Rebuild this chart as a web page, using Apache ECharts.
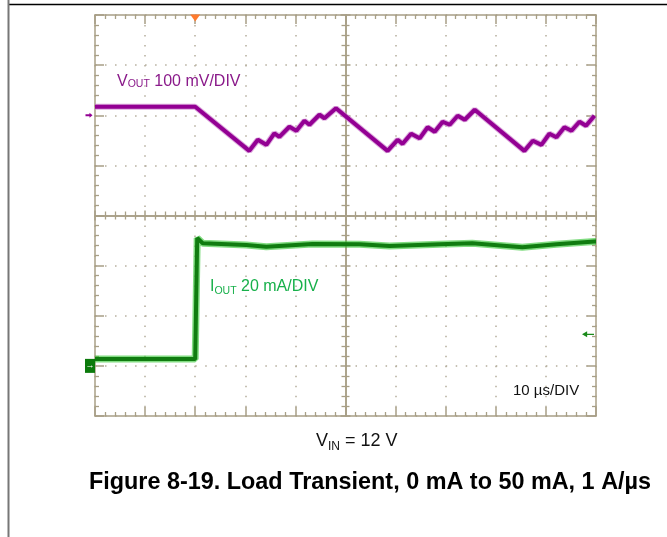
<!DOCTYPE html>
<html>
<head>
<meta charset="utf-8">
<script src="https://cdn.jsdelivr.net/npm/echarts@6/dist/echarts.min.js"></script>
<style>
  html, body { margin: 0; padding: 0; background: #fff; }
  #main { width: 667px; height: 537px; }
</style>
</head>
<body>
<div id="main"></div>
<script>
// time in µs (10 µs/DIV), 0 = load step (trigger)
const voutTime = [-20, 0, 10.8, 12.5, 14.2, 15.8, 16.8, 18.8, 20.2, 21.8, 22.8, 24.8, 25.8, 28.1,
  38.4, 40.4, 41.4, 43.1, 44.8, 46.4, 47.8, 49.4, 50.8, 52.4, 53.8, 55.8,
  65.7, 67.4, 69.1, 70.7, 72.1, 73.7, 75.1, 76.7, 78.0, 79.7];
// VOUT deviation in mV, relative to the channel marker (100 mV/DIV)
const voutMv = [17, 17, -71, -49, -59, -36, -43, -23, -31, -11, -19, 1, -6, 14,
  -71, -49, -57, -37, -46, -24, -33, -13, -19, -1, -9, 11,
  -71, -51, -59, -37, -44, -24, -31, -13, -21, -1];

// IOUT in mA (20 mA/DIV)
const ioutTime = [-20, 0, 0.2, 0.4, 1.5, 10.2, 14.2, 23.4, 32.8, 38.8, 48.8, 55.3, 65.3, 72.1, 79.7, 80];
const ioutMa = [2.7, 2.7, 2.7, 51, 48.9, 48.2, 47.5, 48.6, 48.5, 47.8, 48.5, 48.9, 47.3, 48.5, 49.6, 49.6];

const triggerLevelMa = 12.6;

const gridColor = '#a89f86';
const dotColor = '#b4ad9c';
const voutColor = '#930093';
const ioutColor = '#107c10';

const pairs = (xs, ys) => xs.map((x, i) => [x, ys[i]]);

function edgeAxis(extra) {
  return Object.assign({
    type: 'value',
    axisLine: { show: true, onZero: false, lineStyle: { color: gridColor, width: 1.5 } },
    axisTick: { show: true, inside: true, length: 9, lineStyle: { color: gridColor, width: 1.5 } },
    minorTick: { show: true, splitNumber: 5, length: 4, lineStyle: { color: gridColor, width: 1.3 } },
    axisLabel: { show: false },
    splitLine: { show: false }
  }, extra);
}

function centerAxis(inside, extra) {
  return Object.assign({
    type: 'value',
    axisLine: { show: true, onZero: true, lineStyle: { color: gridColor, width: 1.5 } },
    axisTick: { show: true, inside: inside, length: 5, lineStyle: { color: gridColor, width: 1.5 } },
    minorTick: { show: true, splitNumber: 5, length: 4, lineStyle: { color: gridColor, width: 1.3 } },
    axisLabel: { show: false },
    splitLine: { show: false }
  }, extra);
}

const dotted = { show: true, lineStyle: { color: dotColor, width: 1.5, type: [1.5, 8.52] } };

const chart = echarts.init(document.getElementById('main'));
chart.setOption({
  animation: false,
  grid: { left: 95, top: 15, width: 501, height: 401, outerBoundsMode: 'none' },
  xAxis: [
    edgeAxis({ position: 'bottom', min: -20, max: 80, interval: 10, splitLine: dotted }),
    edgeAxis({ position: 'top', min: -20, max: 80, interval: 10 }),
    centerAxis(true, { position: 'bottom', min: -20, max: 80, interval: 10,
      axisLine: { show: true, onZero: true, onZeroAxisIndex: 2, lineStyle: { color: gridColor, width: 1.5 } } }),
    centerAxis(false, { position: 'bottom', min: -20, max: 80, interval: 10,
      axisLine: { show: true, onZero: true, onZeroAxisIndex: 2, lineStyle: { color: gridColor, width: 1.5 } } }),
    { type: 'value', show: false, min: -50, max: 50 }
  ],
  yAxis: [
    edgeAxis({ position: 'left', min: -600, max: 200, interval: 100, splitLine: dotted }),
    edgeAxis({ position: 'right', min: -20, max: 140, interval: 20 }),
    centerAxis(true, { position: 'left', min: -4, max: 4, interval: 1,
      axisLine: { show: true, onZero: true, onZeroAxisIndex: 4, lineStyle: { color: gridColor, width: 1.5 } } }),
    centerAxis(false, { position: 'left', min: -4, max: 4, interval: 1,
      axisLine: { show: true, onZero: true, onZeroAxisIndex: 4, lineStyle: { color: gridColor, width: 1.5 } } })
  ],
  series: [
    {
      name: 'VOUT glow', type: 'line', xAxisIndex: 0, yAxisIndex: 0, silent: true,
      data: pairs(voutTime, voutMv), showSymbol: false,
      lineStyle: { color: '#cf86cf', width: 6, opacity: 0.7 }
    },
    {
      name: 'VOUT', type: 'line', xAxisIndex: 0, yAxisIndex: 0, silent: true,
      data: pairs(voutTime, voutMv), showSymbol: false,
      lineStyle: { color: voutColor, width: 4 },
      markPoint: {
        silent: true, label: { show: false },
        data: [
          { coord: [0, 200], symbol: 'triangle', symbolRotate: 180, symbolSize: [10, 7], symbolOffset: [0, 3],
            itemStyle: { color: '#ff7a2e' } },
          { coord: [-20, 0], symbol: 'path://M0,3 L8,3 L8,0 L14,5 L8,10 L8,7 L0,7 Z', symbolSize: [7, 5],
            symbolOffset: [-6, 0], itemStyle: { color: voutColor } }
        ]
      }
    },
    {
      name: 'IOUT glow', type: 'line', xAxisIndex: 0, yAxisIndex: 1, silent: true,
      data: pairs(ioutTime, ioutMa), showSymbol: false,
      lineStyle: { color: '#2ec42e', width: 7, opacity: 0.6 }
    },
    {
      name: 'IOUT', type: 'line', xAxisIndex: 0, yAxisIndex: 1, silent: true,
      data: pairs(ioutTime, ioutMa), showSymbol: false,
      lineStyle: { color: ioutColor, width: 4 },
      markPoint: {
        silent: true,
        data: [
          { coord: [-20, 0], symbol: 'rect', symbolSize: [10, 14], symbolOffset: [-5, 0],
            itemStyle: { color: '#0b7a0b' },
            label: { show: true, formatter: '\u2192', color: '#fff', fontSize: 9, position: 'inside' } },
          { coord: [80, triggerLevelMa], symbol: 'path://M0,5 L6,0 L6,4 L14,4 L14,6 L6,6 L6,10 Z',
            symbolSize: [12, 6], symbolOffset: [-8, 0], itemStyle: { color: '#1a8a1a' },
            label: { show: false } }
        ]
      }
    }
  ],
  graphic: [
    { type: 'line', shape: { x1: 9, y1: 4.5, x2: 667, y2: 4.5 }, style: { stroke: '#000', lineWidth: 1.5 } },
    { type: 'line', shape: { x1: 8.5, y1: 0, x2: 8.5, y2: 537 }, style: { stroke: '#777', lineWidth: 2 } },
    {
      type: 'text', left: 117, top: 74, z: 10,
      style: {
        text: '{a|V}{b|OUT}{a| 100 mV/DIV}',
        rich: {
          a: { fontSize: 16, lineHeight: 18, fill: '#8a1a8a', fontFamily: 'Liberation Sans', verticalAlign: 'bottom' },
          b: { fontSize: 10.5, lineHeight: 18, fill: '#8a1a8a', fontFamily: 'Liberation Sans', verticalAlign: 'bottom' }
        }
      }
    },
    {
      type: 'text', left: 210, top: 279, z: 10,
      style: {
        text: '{a|I}{b|OUT}{a| 20 mA/DIV}',
        rich: {
          a: { fontSize: 16, lineHeight: 18, fill: '#17b04a', fontFamily: 'Liberation Sans', verticalAlign: 'bottom' },
          b: { fontSize: 10.5, lineHeight: 18, fill: '#17b04a', fontFamily: 'Liberation Sans', verticalAlign: 'bottom', padding: [0, 0, -2, 0] }
        }
      }
    },
    {
      type: 'text', left: 513, top: 383, z: 10,
      style: { text: '10 \u00b5s/DIV', fontSize: 15, fill: '#111', fontFamily: 'Liberation Sans' }
    },
    {
      type: 'text', left: 316, top: 432, z: 10,
      style: {
        text: '{a|V}{b|IN}{a| = 12 V}',
        rich: {
          a: { fontSize: 18, lineHeight: 20, fill: '#111', fontFamily: 'Liberation Sans', verticalAlign: 'bottom' },
          b: { fontSize: 12, lineHeight: 20, fill: '#111', fontFamily: 'Liberation Sans', verticalAlign: 'bottom', padding: [0, 0, -3, 0] }
        }
      }
    },
    {
      type: 'text', left: 89, top: 471, z: 10,
      style: {
        text: 'Figure 8-19. Load Transient, 0 mA to 50 mA, 1 A/\u00b5s',
        fontSize: 23.4, fontWeight: 'bold', fill: '#000', fontFamily: 'Liberation Sans'
      }
    }
  ]
});
</script>
</body>
</html>
